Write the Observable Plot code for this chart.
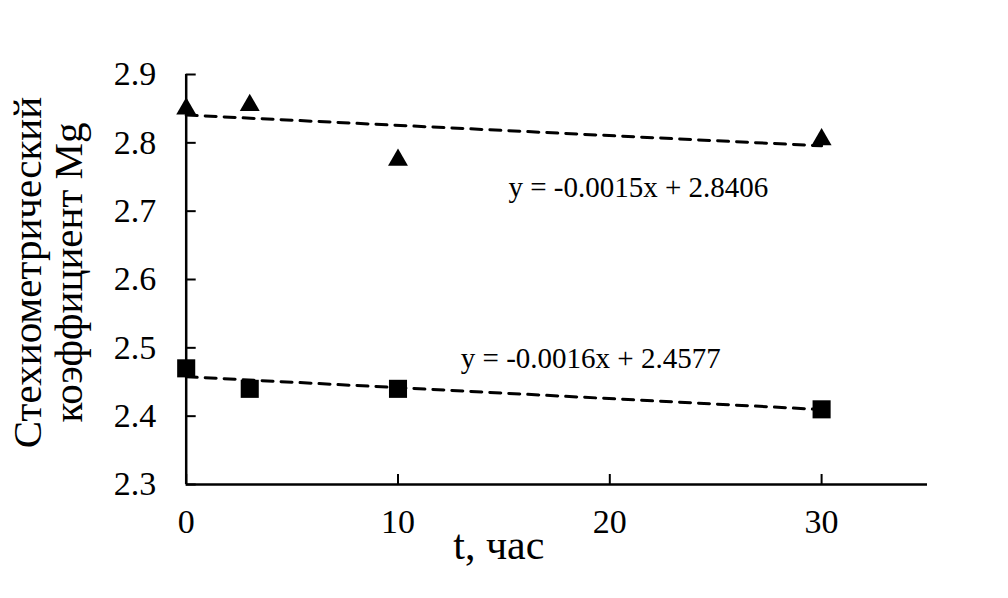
<!DOCTYPE html>
<html>
<head>
<meta charset="utf-8">
<script src="https://cdn.jsdelivr.net/npm/d3@7"></script>
<script src="https://cdn.jsdelivr.net/npm/@observablehq/plot@0.6"></script>
<style>
  html, body { margin: 0; padding: 0; background: white; }
  svg text { font-family: "Liberation Serif", "Times New Roman", serif; }
</style>
</head>
<body>
<div id="chart"></div>
<script>
// Data
const times = [0, 3, 10, 30];
const triangleValues = [2.85, 2.855, 2.775, 2.805];
const squareValues = [2.47, 2.44, 2.44, 2.41];
const trendX = [0, 30];
const trendTriangle = [2.8406, 2.7956];
const trendSquare = [2.4577, 2.4097];
const equations = ["y = -0.0015x + 2.8406", "y = -0.0016x + 2.4577"];
const xTicks = [0, 10, 20, 30];
const yTicks = [2.3, 2.4, 2.5, 2.6, 2.7, 2.8, 2.9];
const yTitle = "Стехиометрический\nкоэффициент Mg";
const xTitle = "t, час";

const tri = times.map((t, i) => ({t, v: triangleValues[i]}));
const sq = times.map((t, i) => ({t, v: squareValues[i]}));
const trTri = trendX.map((t, i) => ({t, v: trendTriangle[i]}));
const trSq = trendX.map((t, i) => ({t, v: trendSquare[i]}));

const W = 1008, H = 598;
const mL = 185.7, mR = 81, mT = 74, mB = 114;
const plotW = W - mL - mR, plotH = H - mT - mB;
const serif = "Liberation Serif";

const chart = Plot.plot({
  width: W,
  height: H,
  marginLeft: mL,
  marginRight: mR,
  marginTop: mT,
  marginBottom: mB,
  x: {domain: [0, 35]},
  y: {domain: [2.3, 2.9]},
  style: "font-family: 'Liberation Serif', serif; background: white; color: black;",
  marks: [
    Plot.axisY({ticks: yTicks, tickSize: 0, tickPadding: 30, fontSize: 34, fontFamily: serif, tickFormat: d => d.toFixed(1), label: null}),
    Plot.axisX({ticks: xTicks, tickSize: 0, tickPadding: 24, fontSize: 34, fontFamily: serif, tickFormat: d => String(d), label: null}),
    Plot.tickY(yTicks, {y: d => d, insetRight: plotW - 10, stroke: "black", strokeWidth: 2}),
    Plot.tickX(xTicks, {x: d => d, insetTop: plotH - 10, stroke: "black", strokeWidth: 2}),
    Plot.ruleX([0], {stroke: "black", strokeWidth: 2.5}),
    Plot.ruleY([2.3], {stroke: "black", strokeWidth: 2.5}),
    Plot.line(trTri, {x: "t", y: "v", stroke: "black", strokeWidth: 3, strokeDasharray: "11,8"}),
    Plot.line(trSq, {x: "t", y: "v", stroke: "black", strokeWidth: 3, strokeDasharray: "11,8"}),
    Plot.dot(tri, {x: "t", y: "v", symbol: "triangle", r: 7.4, fill: "black", stroke: "none"}),
    Plot.dot(sq, {x: "t", y: "v", symbol: "square", r: 10.2, fill: "black", stroke: "none"}),
    Plot.text([equations[0]], {x: 21.35, y: 2.7336, fontSize: 29, fontFamily: serif, textAnchor: "middle", lineAnchor: "middle"}),
    Plot.text([equations[1]], {x: 19.1, y: 2.4848, fontSize: 29, fontFamily: serif, textAnchor: "middle", lineAnchor: "middle"}),
    Plot.text([yTitle], {frameAnchor: "left", rotate: -90, dx: -138, dy: -7, fontSize: 41, fontFamily: serif, lineHeight: 1.0, textAnchor: "middle", lineAnchor: "middle"}),
    Plot.text([xTitle], {frameAnchor: "bottom", dx: -58, dy: 61, fontSize: 42, fontFamily: serif, textAnchor: "middle", lineAnchor: "middle"})
  ]
});
document.getElementById("chart").appendChild(chart);
</script>
</body>
</html>
